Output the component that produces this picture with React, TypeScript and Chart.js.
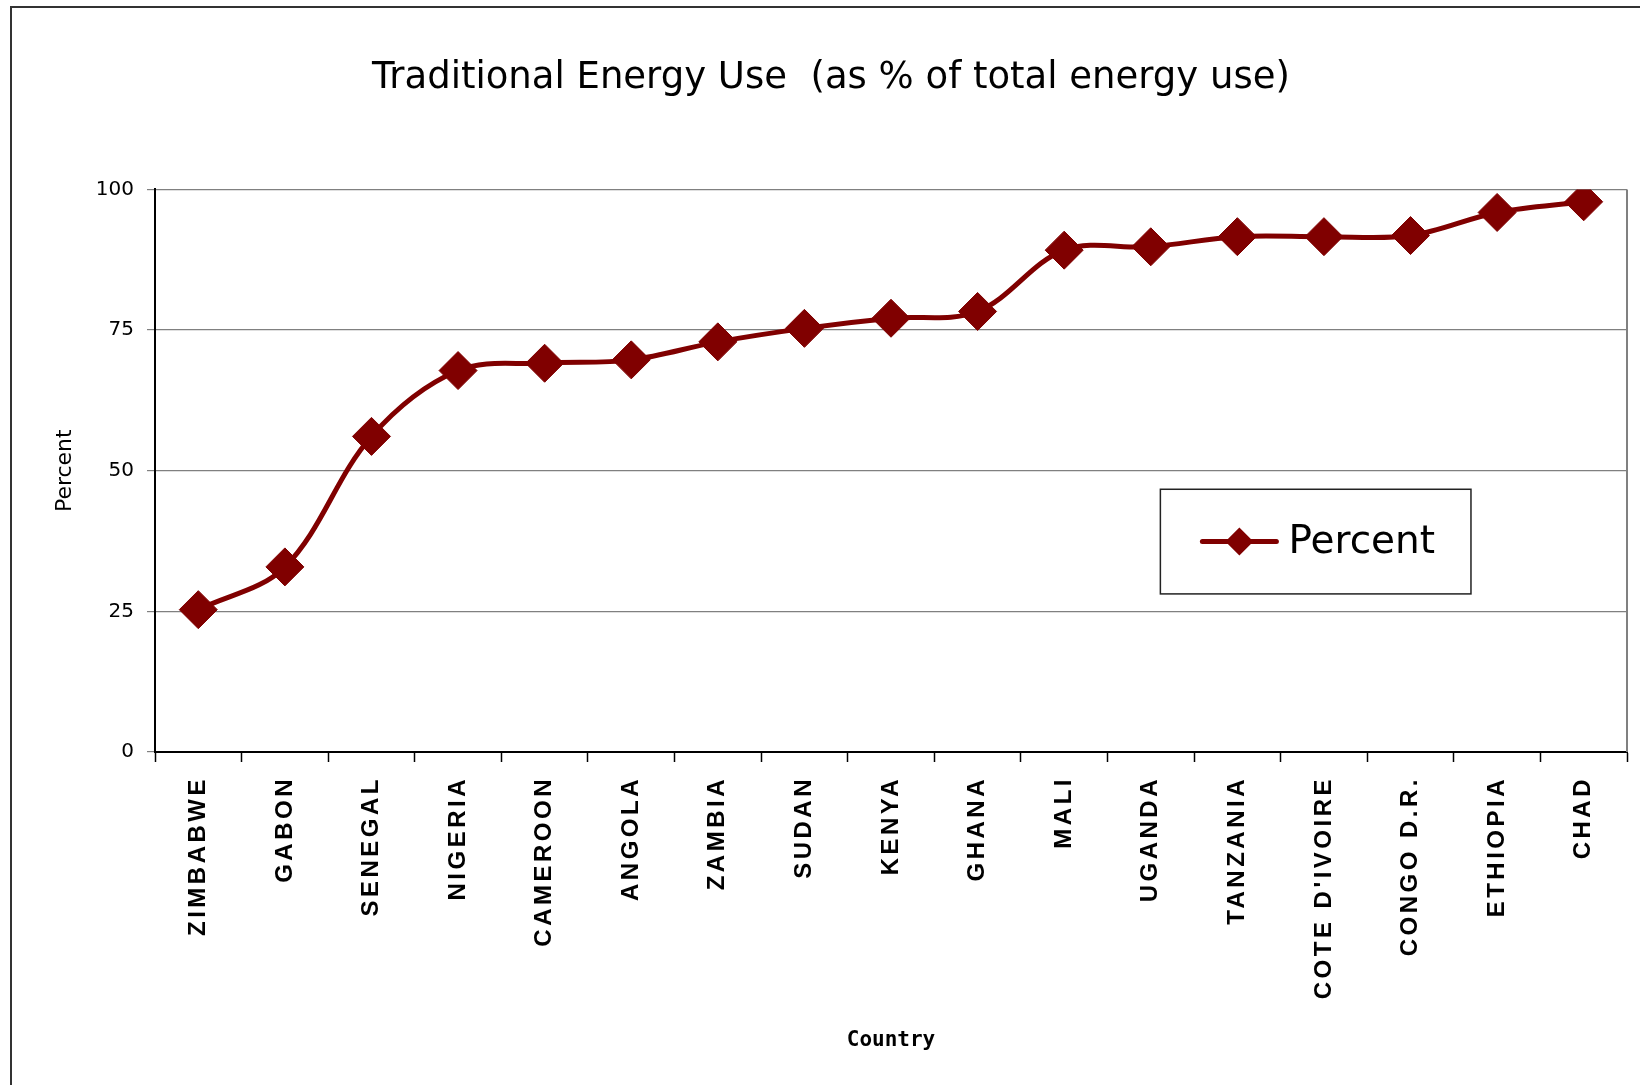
import React, { useEffect, useRef } from 'react';
import { Chart, registerables } from 'chart.js';

Chart.register(...registerables);

const countries = [
  'ZIMBABWE', 'GABON', 'SENEGAL', 'NIGERIA', 'CAMEROON', 'ANGOLA', 'ZAMBIA', 'SUDAN', 'KENYA',
  'GHANA', 'MALI', 'UGANDA', 'TANZANIA', "COTE D'IVOIRE", 'CONGO D.R.', 'ETHIOPIA', 'CHAD',
];
const percentValues = [25.3, 32.9, 56.1, 67.8, 69.1, 69.7, 72.9, 75.3, 77.1, 78.3, 89.2, 89.8, 91.6, 91.6, 91.8, 95.9, 97.8];
const yTickValues = [0, 25, 50, 75, 100];
const seriesName = 'Percent';
const chartTitle = 'Traditional Energy Use  (as % of total energy use)';
const xAxisTitle = 'Country';
const yAxisTitle = 'Percent';

const MAROON = '#800000';

const decorPlugin = {
  id: 'decor',
  beforeDraw(chart: any) {
    const ctx = chart.ctx;
    ctx.save();
    ctx.fillStyle = '#ffffff';
    ctx.fillRect(0, 0, chart.width, chart.height);
    ctx.strokeStyle = '#333333';
    ctx.lineWidth = 2;
    ctx.beginPath();
    ctx.moveTo(11, chart.height);
    ctx.lineTo(11, 7);
    ctx.lineTo(chart.width, 7);
    ctx.stroke();
    ctx.restore();
    const xs = chart.scales.x;
    if (xs && !xs.__spaced) {
      const orig = xs.drawLabels.bind(xs);
      xs.drawLabels = (area: any) => {
        const c = xs.ctx;
        c.save();
        c.letterSpacing = '3.5px';
        orig(area);
        c.restore();
      };
      xs.__spaced = true;
    }
  },
  beforeDatasetsDraw(chart: any) {
    const { ctx, chartArea: a } = chart;
    ctx.save();
    ctx.strokeStyle = '#808080';
    ctx.lineWidth = 2;
    ctx.beginPath();
    ctx.moveTo(a.right, a.top);
    ctx.lineTo(a.right, a.bottom);
    ctx.stroke();
    ctx.restore();
  },
  afterDraw(chart: any) {
    const { ctx, chartArea: a } = chart;
    const w = a.right - a.left;
    const h = a.bottom - a.top;
    const bx = a.left + 0.683 * w;
    const by = a.top + 0.533 * h;
    const bw = 0.211 * w;
    const bh = 0.186 * h;
    ctx.save();
    ctx.fillStyle = '#ffffff';
    ctx.fillRect(bx, by, bw, bh);
    ctx.strokeStyle = '#222222';
    ctx.lineWidth = 1.5;
    ctx.strokeRect(bx, by, bw, bh);
    const cy = by + bh * 0.5;
    ctx.strokeStyle = MAROON;
    ctx.lineWidth = 5;
    ctx.lineCap = 'round';
    ctx.beginPath();
    ctx.moveTo(bx + 42, cy);
    ctx.lineTo(bx + 116, cy);
    ctx.stroke();
    ctx.fillStyle = MAROON;
    const r = 14;
    const dx = bx + 79;
    ctx.beginPath();
    ctx.moveTo(dx - r, cy);
    ctx.lineTo(dx, cy - r);
    ctx.lineTo(dx + r, cy);
    ctx.lineTo(dx, cy + r);
    ctx.closePath();
    ctx.fill();
    ctx.fillStyle = '#000000';
    ctx.font = '39px "DejaVu Sans"';
    ctx.textBaseline = 'middle';
    ctx.textAlign = 'left';
    ctx.fillText(seriesName, bx + 128, cy + 1);
    ctx.restore();
  },
};

export default function App() {
  const ref = useRef<HTMLCanvasElement>(null);
  useEffect(() => {
    document.body.style.margin = '0';
    document.body.style.overflow = 'hidden';
    const canvas = ref.current!;
    const chart = new Chart(canvas, {
      type: 'line',
      data: {
        labels: countries,
        datasets: [
          {
            label: seriesName,
            data: percentValues,
            borderColor: MAROON,
            backgroundColor: MAROON,
            borderWidth: 5,
            tension: 0.35,
            pointStyle: 'rectRot',
            pointRadius: 19,
            pointBorderWidth: 1,
            pointBackgroundColor: MAROON,
            pointBorderColor: MAROON,
          },
        ],
      },
      options: {
        responsive: false,
        animation: false,
        layout: { autoPadding: false, padding: { left: 35, right: 13, top: 0, bottom: 0 } },
        plugins: {
          legend: { display: false },
          tooltip: { enabled: false },
          title: {
            display: true,
            text: chartTitle,
            color: '#000000',
            font: { family: '"DejaVu Sans"', size: 37, weight: 'normal' },
            padding: { top: 56, bottom: 89 },
          },
        },
        scales: {
          x: {
            type: 'category',
            offset: true,
            afterFit(scale: any) {
              scale.height = 333;
              scale.paddingLeft = 0;
              scale.paddingRight = 0;
            },
            grid: {
              offset: true,
              drawOnChartArea: false,
              drawTicks: true,
              tickLength: 10,
              color: '#000000',
              tickWidth: 1.5,
            },
            border: { display: true, color: '#000000', width: 2 },
            ticks: {
              minRotation: 90,
              maxRotation: 90,
              autoSkip: false,
              padding: 14,
              color: '#000000',
              font: { family: '"Liberation Sans"', size: 24, weight: 'bold' },
            },
            title: {
              display: true,
              text: xAxisTitle,
              color: '#000000',
              font: { family: '"DejaVu Sans Mono"', size: 21, weight: 'bold' },
              padding: { top: 0, bottom: 32 },
            },
          },
          y: {
            min: 0,
            max: 100,
            afterFit(scale: any) {
              scale.width = 120;
            },
            afterBuildTicks(scale: any) {
              scale.ticks = yTickValues.map((v) => ({ value: v }));
            },
            grid: {
              color: '#808080',
              lineWidth: 1.2,
              drawTicks: true,
              tickLength: 8,
              tickColor: '#808080',
            },
            border: { display: true, color: '#000000', width: 2 },
            ticks: {
              padding: 13,
              color: '#000000',
              font: { family: '"DejaVu Sans"', size: 20 },
            },
            title: {
              display: true,
              text: yAxisTitle,
              color: '#000000',
              font: { family: '"DejaVu Sans"', size: 22 },
              padding: { top: 17, bottom: 0 },
            },
          },
        },
      },
      plugins: [decorPlugin],
    });
    return () => chart.destroy();
  }, []);
  return <canvas ref={ref} width={1640} height={1085} style={{ display: 'block' }} />;
}
